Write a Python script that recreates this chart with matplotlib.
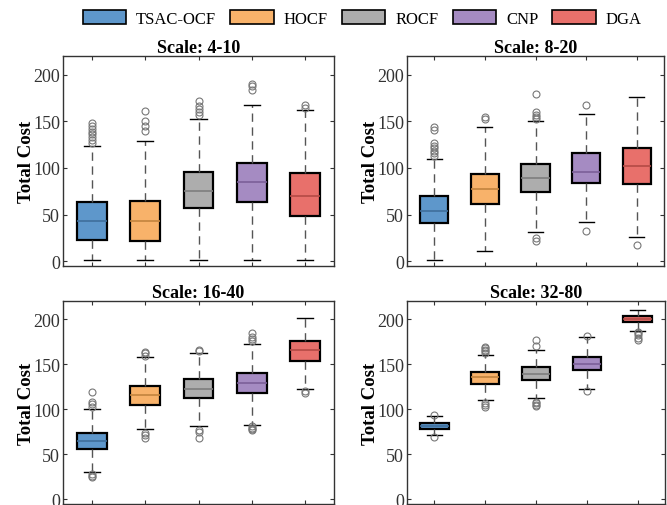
import numpy as np
import matplotlib
matplotlib.use("Agg")
import matplotlib.pyplot as plt
from matplotlib.patches import Patch

plt.rcParams["font.family"] = ["Liberation Serif", "DejaVu Serif"]

methods = ["TSAC-OCF", "HOCF", "ROCF", "CNP", "DGA"]
scales = ["Scale: 4-10", "Scale: 8-20", "Scale: 16-40", "Scale: 32-80"]

# box statistics, one row per scale, one entry per method
q1 = [[22.5, 22, 57, 64, 48.5],
      [41.5, 61, 74.5, 84, 83],
      [56, 105, 112, 117.5, 154],
      [78.5, 128.5, 132, 143, 196.5]]
med = [[43, 43, 75.5, 85, 70],
       [53.5, 77, 89, 95.5, 102],
       [65, 116, 123, 129.5, 166],
       [81.5, 136, 139.5, 150.5, 200]]
q3 = [[64, 65, 96, 105.5, 95],
      [69.5, 94, 104.5, 116, 121],
      [74, 126, 133, 140, 176],
      [85, 141.5, 146.5, 158, 203.5]]
wlo = [[1, 1, 1.5, 1, 1],
       [1.5, 11.5, 31, 42.5, 26],
       [30.5, 78.5, 81.5, 83, 122],
       [71, 110.5, 112, 122, 187]]
whi = [[124, 129, 153, 168, 162],
       [110, 144, 150, 158, 176],
       [100, 157.5, 162, 172.5, 201],
       [92.5, 160, 165.5, 180, 210]]
outliers = [
    [[127, 130, 133, 136, 139, 142, 145, 148],
     [140, 145, 150, 161],
     [157, 160, 163, 166, 172],
     [184, 188, 190.5],
     [164, 167]],
    [[113, 116, 118, 121, 124, 127, 141, 143.5],
     [152.5, 154.5],
     [21.5, 25.5, 153, 155, 157, 160, 179],
     [32.5, 168],
     [17.5]],
    [[24.5, 26, 28, 103, 105.5, 108, 119],
     [68.5, 71, 74, 159.5, 162, 164],
     [68, 74.5, 77, 165, 166],
     [76.5, 78, 79.5, 81, 176, 178, 180, 185],
     [118.5, 120]],
    [[69.5, 94],
     [103, 105, 107.5, 162.5, 164.5, 166, 168, 169],
     [103.5, 105, 106.5, 108.5, 170.5, 176.5],
     [120, 181.5],
     [177, 179.5, 182, 184, 186]],
]

box_colors = ["#5E97CB", "#F8B26A", "#ADADAD", "#A58BC2", "#E8706B"]
median_colors = ["#3F6F9C", "#C3843E", "#7D7D7D", "#7B5F98", "#B44A45"]

fig = plt.figure(figsize=(6.67, 5.06), dpi=100)
W, H = 667, 506
# axes boxes in pixels: left, top, right, bottom
frames = [(63, 57, 334, 267), (407, 57, 664, 267),
          (63, 302, 334, 505), (407, 302, 665, 505)]

positions = np.arange(1, len(methods) + 1)
for k, (l, t, r, b) in enumerate(frames):
    ax = fig.add_axes([l / W, 1 - b / H, (r - l) / W, (b - t) / H])
    stats = []
    for i in range(len(methods)):
        stats.append(dict(med=med[k][i], q1=q1[k][i], q3=q3[k][i],
                          whislo=wlo[k][i], whishi=whi[k][i],
                          fliers=outliers[k][i]))
    bp = ax.bxp(stats, positions=positions, widths=0.56, patch_artist=True,
                showfliers=True,
                boxprops=dict(edgecolor="black", linewidth=1.6),
                whiskerprops=dict(color="#555555", linewidth=1.0,
                                  linestyle=(0, (6, 4))),
                capprops=dict(color="black", linewidth=1.0),
                flierprops=dict(marker="o", markersize=5, markerfacecolor="none",
                                markeredgecolor="#777777", markeredgewidth=0.8),
                medianprops=dict(linewidth=1.2))
    for i, patch in enumerate(bp["boxes"]):
        patch.set_facecolor(box_colors[i])
        bp["medians"][i].set_color(median_colors[i])
    for cap in bp["caps"]:
        x = cap.get_xdata()
        c = (x[0] + x[1]) / 2
        cap.set_xdata([c - 0.15, c + 0.15])

    ax.set_xlim(0.46, 5.54)
    ax.set_ylim(-5, 220)
    ax.set_xticks(positions)
    ax.set_xticklabels([])
    ax.set_yticks([0, 50, 100, 150, 200])
    ax.tick_params(direction="in", top=True, right=True, length=3,
                   width=0.8, labelsize=13, colors="#333333", pad=2)
    for s in ax.spines.values():
        s.set_color("#333333")
        s.set_linewidth(1.0)
    ax.set_title(scales[k], fontsize=13, fontweight="bold", pad=3)
    ax.set_ylabel("Total Cost", fontsize=13.5, fontweight="bold", labelpad=-1)

handles = [Patch(facecolor=c, edgecolor="black", linewidth=1.2) for c in box_colors]
fig.legend(handles, methods, loc="center", bbox_to_anchor=(0.543, 0.962),
           ncol=5, frameon=False, fontsize=12, handlelength=2.6,
           handleheight=0.9, handletextpad=0.6, columnspacing=0.85,
           borderpad=0.2)

fig.savefig("out.png", dpi=100)
